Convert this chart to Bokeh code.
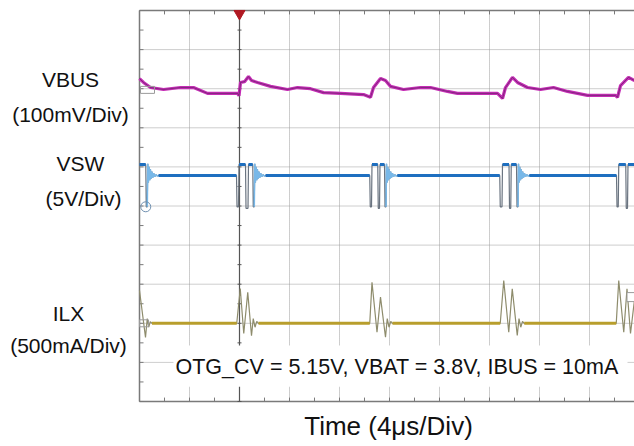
import numpy as np
from bokeh.plotting import figure
from bokeh.models import Range1d, Label, BoxAnnotation
from bokeh.embed import file_html
from bokeh.resources import INLINE

# ---------------- data (time in us, 4 us / div) ----------------
# VBUS, AC view in mV around its marker (100 mV/div)
vbus_t = [0.0, 0.32, 0.88, 1.92, 3.28, 4.32, 5.44, 7.84, 7.96, 8.08, 8.4, 8.72,
          8.96, 9.44, 10.48, 11.84, 12.64, 13.68, 14.72, 16.08, 17.92, 18.48,
          18.72, 19.28, 19.68, 20.08, 21.12, 22.48, 23.28, 24.64, 25.44, 28.64,
          29.04, 29.28, 29.84, 30.24, 31.04, 32.08, 33.12, 34.24, 35.84, 38.08,
          38.24, 38.48, 39.12, 39.6]
vbus_mv = [26, 16, 3, -2, 3, 3, -12, -12, -18, 16, 18, 31,
           21, 16, 6, -2, 3, 0, -10, -12, -15, -22,
           3, 26, 21, 6, -2, 3, 3, -7, -12, -12,
           -25, 3, 29, 16, 3, -2, 3, -7, -17, -17,
           -22, 8, 29, 21]

# VSW switch node in V (5 V/div)
vsw_t = [0.0, 0.5, 0.54, 0.62,
         0.66, 0.71, 0.76, 0.82, 0.87, 0.93, 0.99, 1.05, 1.13, 1.22, 1.32, 1.42, 1.52,
         7.76,
         7.8, 7.92, 7.96, 8.48, 8.52, 8.68, 8.72, 9.06, 9.1, 9.18,
         9.22, 9.27, 9.32, 9.38, 9.43, 9.49, 9.55, 9.61, 9.69, 9.78, 9.88, 9.98, 10.08,
         18.42,
         18.46, 18.56, 18.6, 19.06, 19.1, 19.2, 19.24, 19.6, 19.64, 19.72,
         19.76, 19.81, 19.86, 19.92, 19.97, 20.03, 20.09, 20.15, 20.23, 20.32, 20.42, 20.52, 20.62,
         28.82,
         28.86, 29.0, 29.04, 29.56, 29.6, 29.7, 29.74, 30.16, 30.2, 30.28,
         30.32, 30.37, 30.42, 30.48, 30.53, 30.59, 30.65, 30.71, 30.79, 30.88, 30.98, 31.08, 31.18,
         38.16,
         38.2, 38.3, 38.34, 38.9, 38.94, 39.04, 39.08, 39.6]
vsw_v = [5.3, 5.3, -0.1, -0.1,
         5.4, 3.0, 5.0, 3.3, 4.7, 3.5, 4.4, 3.6, 4.2, 3.75, 4.0, 3.85, 3.9,
         3.9,
         -0.1, -0.1, 5.3, 5.3, -0.3, -0.3, 5.3, 5.3, -0.1, -0.1,
         5.4, 3.0, 5.0, 3.3, 4.7, 3.5, 4.4, 3.6, 4.2, 3.75, 4.0, 3.85, 3.9,
         3.9,
         -0.1, -0.1, 5.3, 5.3, -0.3, -0.3, 5.3, 5.3, -0.1, -0.1,
         5.4, 3.0, 5.0, 3.3, 4.7, 3.5, 4.4, 3.6, 4.2, 3.75, 4.0, 3.85, 3.9,
         3.9,
         -0.1, -0.1, 5.3, 5.3, -0.3, -0.3, 5.3, 5.3, -0.1, -0.1,
         5.4, 3.0, 5.0, 3.3, 4.7, 3.5, 4.4, 3.6, 4.2, 3.75, 4.0, 3.85, 3.9,
         3.9,
         -0.1, -0.1, 5.3, 5.3, -0.3, -0.3, 5.3, 5.3]

# ILX inductor current in mA (500 mA/div)
ilx_t = [0.0, 0.48, 0.62, 0.74, 0.86, 1.0,
         7.78, 8.06, 8.34, 8.66, 8.96, 9.1, 9.24, 9.38, 9.52,
         18.42, 18.6, 19.0, 19.28, 19.68, 19.82, 19.96, 20.1, 20.24,
         28.86, 29.14, 29.54, 29.82, 30.22, 30.36, 30.5, 30.64, 30.78,
         38.14, 38.34, 38.74, 39.0, 39.28, 39.6]
ilx_ma = [420, -180, 60, -50, 20, 0,
          0, 445, -130, 395, -160, 60, -50, 25, 0,
          0, 525, -115, 335, -178, 60, -50, 25, 0,
          0, 547, -115, 440, -156, 60, -50, 25, 0,
          0, 547, -115, 440, -130, 300]

labels = [("VBUS", "(100mV/Div)"), ("VSW", "(5V/Div)"), ("ILX", "(500mA/Div)")]
note = "OTG_CV = 5.15V, VBAT = 3.8V, IBUS = 10mA"
xlabel = "Time (4\u03bcs/Div)"

# channel scaling: (marker position in div, units per div)
VBUS_POS, VBUS_SCALE = 8.0, 100.0
VSW_POS, VSW_SCALE = 5.0, 5.0
ILX_POS, ILX_SCALE = 2.0, 500.0

T_END = 39.6          # visible time span (us)
DIVS = 10             # vertical divisions
X_START, Y_START, Y_END = -11.12, -1.151, 10.256   # room for the side texts
TICK_X, TICK_Y = 0.32, 0.1                         # inward tick length (~4 px)

FONT = "Liberation Sans"
FRAME = "#7a7a7a"
GRID = "#9c9c9c"
MAGENTA = "#c52cb5"
BLUE = "#1e6fc0"
LBLUE = "#78b8e8"
OLIVE = "#b89e2c"

p = figure(width=634, height=446, output_backend="svg", toolbar_location=None,
           x_range=Range1d(X_START, T_END), y_range=Range1d(Y_START, Y_END),
           x_axis_location=None, y_axis_location=None, min_border=0)
p.outline_line_color = None
p.background_fill_color = "white"
p.border_fill_color = "white"
p.grid.visible = False

# dotted graticule inside the scope area
gx = np.arange(4, T_END, 4.0)
gy = np.arange(1, DIVS, 1.0)
p.segment(x0=gx, y0=0, x1=gx, y1=DIVS, line_color=GRID, line_dash="1 1", line_width=1)
p.segment(x0=0, y0=gy, x1=T_END, y1=gy, line_color=GRID, line_dash="1 1", line_width=1)

# scope frame (left, bottom, top) with inward half-division ticks
half_x = np.arange(0, T_END, 2.0)
half_y = np.arange(0, DIVS + 0.01, 0.5)
p.segment(x0=[0, 0, 0], y0=[0, 0, DIVS], x1=[0, T_END, T_END], y1=[DIVS, 0, DIVS],
          line_color=FRAME, line_width=1.5)
p.segment(x0=half_x, y0=0, x1=half_x, y1=TICK_Y, line_color=FRAME, line_width=1)
p.segment(x0=half_x, y0=DIVS, x1=half_x, y1=DIVS - TICK_Y, line_color=FRAME, line_width=1)
p.segment(x0=0, y0=half_y, x1=TICK_X, y1=half_y, line_color=FRAME, line_width=1)

# trigger position line with small ticks and marker
p.segment(x0=8, y0=0, x1=8, y1=DIVS, line_color="#555555", line_width=1.2)
p.segment(x0=8 - TICK_X / 2, y0=half_y, x1=8 + TICK_X / 2, y1=half_y,
          line_color="#555555", line_width=1)
p.scatter(x=[8], y=[DIVS - 0.08], marker="inverted_triangle", size=11,
          fill_color="#b01822", line_color="#b01822")

# ---------------- traces ----------------
t = np.array(vbus_t)
vb = VBUS_POS + np.array(vbus_mv) / VBUS_SCALE
p.line(t, vb, line_color=MAGENTA, line_width=3.2)
p.line(t, vb, line_color="#4c2450", line_width=0.8, line_alpha=0.7)

t = np.array(vsw_t)
vv = np.array(vsw_v)
vs = VSW_POS + vv / VSW_SCALE
p.line(t, vs, line_color="#6a7480", line_width=1.2)
levels = np.isclose(vv, 5.3) | np.isclose(vv, -0.1) | np.isclose(vv, -0.3) | np.isclose(vv, 3.9)
ring = ~levels
ring_ext = ring | np.roll(ring, 1) | np.roll(ring, -1)
ring_y = np.where(ring_ext, vs, np.nan)
p.line(t, ring_y, line_color=LBLUE, line_width=1.6)
flat = [i for i in range(len(vv) - 1) if np.isclose(vv[i], vv[i + 1]) and vv[i] > 1]
nxt = [i + 1 for i in flat]
p.segment(x0=t[flat], y0=vs[flat], x1=t[nxt], y1=vs[nxt], line_color=BLUE, line_width=3)

t = np.array(ilx_t)
ia = np.array(ilx_ma)
il = ILX_POS + ia / ILX_SCALE
p.line(t, il, line_color="#8e8c6c", line_width=1.2)
flat = [i for i in range(len(ia) - 1) if ia[i] == 0 and ia[i + 1] == 0]
nxt = [i + 1 for i in flat]
p.segment(x0=t[flat], y0=il[flat], x1=t[nxt], y1=il[nxt], line_color=OLIVE, line_width=3)

# channel markers
p.rect(x=[0.64], y=[VBUS_POS - 0.03], width=14, height=7, width_units="screen",
       height_units="screen", fill_color=None, line_color="#9a9a9a", line_width=1)
p.scatter(x=[0.5], y=[VSW_POS - 0.02], marker="circle", size=10, fill_color=None,
          line_color="#7090b0", line_width=1)
p.rect(x=[0.36], y=[ILX_POS], width=9, height=7, width_units="screen",
       height_units="screen", fill_color=None, line_color="#9a9a9a", line_width=1)
p.rect(x=[39.36], y=[2.67], width=9, height=9, width_units="screen",
       height_units="screen", fill_color="white", line_color="#9a9a9a", line_width=1)

# ---------------- texts ----------------
lab_pos = [(-5.52, 8.23, -5.52, 7.33), (-4.72, 6.08, -4.48, 5.19), (-5.68, 2.25, -5.68, 1.43)]
for (name, unit), (x1, y1, x2, y2) in zip(labels, lab_pos):
    p.add_layout(Label(x=x1, y=y1, text=name, text_align="center", text_baseline="alphabetic",
                       text_font=FONT, text_font_size="21px", text_color="#111111"))
    p.add_layout(Label(x=x2, y=y2, text=unit, text_align="center", text_baseline="alphabetic",
                       text_font=FONT, text_font_size="21px", text_color="#111111"))

p.add_layout(BoxAnnotation(left=2.72, right=39.04, bottom=0.38, top=1.43,
                           fill_color="white", fill_alpha=1.0, line_color=None))
p.add_layout(Label(x=2.88, y=0.87, text=note, text_align="left", text_baseline="alphabetic",
                   text_font=FONT, text_font_size="21.5px", text_color="#111111"))
p.add_layout(Label(x=19.92, y=-0.615, text=xlabel, text_align="center",
                   text_baseline="alphabetic", text_font=FONT, text_font_size="26px",
                   text_color="#111111"))

open("out.html", "w").write(file_html(p, INLINE))
